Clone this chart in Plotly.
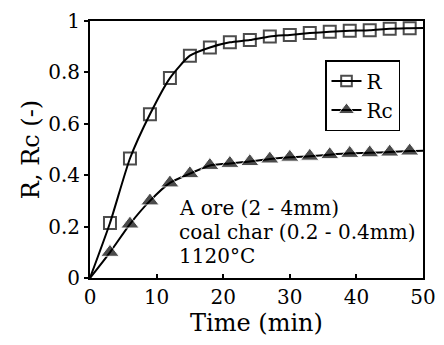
import plotly.graph_objects as go

time = [0, 3, 6, 9, 12, 15, 18, 21, 24, 27, 30, 33, 36, 39, 42, 45, 48, 50]
R = [0, 0.214, 0.465, 0.637, 0.778, 0.865, 0.897, 0.917, 0.926, 0.94, 0.946,
     0.953, 0.958, 0.962, 0.964, 0.97, 0.972, 0.973]
Rc = [0, 0.10, 0.21, 0.30, 0.37, 0.406, 0.438, 0.446, 0.453, 0.463, 0.47,
      0.474, 0.48, 0.485, 0.487, 0.49, 0.494, 0.495]
x_ticks = [0, 10, 20, 30, 40, 50]
y_ticks = [0, 0.2, 0.4, 0.6, 0.8, 1]
y_ticklabels = ["0", "0.2", "0.4", "0.6", "0.8", "1"]
notes = ["A ore (2 - 4mm)", "coal char (0.2 - 0.4mm)", "1120\u00b0C"]

FONT = "DejaVu Serif"
FS = 20
n = len(time)
sq_sizes = [0] + [12] * (n - 2) + [0]
tri_sizes = [0] + [16] * (n - 2) + [0]

# page body has an 8px margin: figure is offset by 8px; keep it inside the window
OFF = 8
W, H = 444 - 2 * OFF, 345 - 2 * OFF
PX0, PX1, PY0, PY1 = 90, 423, 21, 278   # plot area in page pixels
L, T = PX0 - OFF, PY0 - OFF
Rm = W - (PX1 - OFF)
B = H - (PY1 - OFF)


def fx(px):
    return (px - PX0) / (PX1 - PX0)


def fy(py):
    return (PY1 - py) / (PY1 - PY0)


fig = go.Figure()
fig.add_trace(go.Scatter(
    x=time, y=R, name="R", mode="lines+markers",
    line=dict(color="black", width=2, shape="spline", smoothing=0.6),
    marker=dict(symbol="square-open", size=sq_sizes, color="black",
                line=dict(width=2, color="black")),
))
fig.add_trace(go.Scatter(
    x=time, y=Rc, name="Rc", mode="lines+markers",
    line=dict(color="black", width=2, shape="spline", smoothing=0.6),
    marker=dict(symbol="triangle-up", size=tri_sizes, color="black"),
))

for i, t in enumerate(notes):
    fig.add_annotation(x=fx(177), y=fy(208 + 24 * i),
                       xref="paper", yref="paper", text=t, showarrow=False,
                       xanchor="left", yanchor="middle",
                       font=dict(family=FONT, size=FS, color="black"))

fig.update_layout(
    width=W, height=H,
    margin=dict(l=L, r=Rm, t=T, b=B, autoexpand=False),
    paper_bgcolor="white", plot_bgcolor="white",
    font=dict(family=FONT, size=FS, color="black"),
    showlegend=True,
    legend=dict(x=fx(325), y=fy(60), xanchor="left", yanchor="top",
                bordercolor="black", borderwidth=1.5, bgcolor="white",
                font=dict(family=FONT, size=FS, color="black"),
                itemwidth=30),
    xaxis=dict(range=[0, 50], tickvals=x_ticks, ticks="inside", ticklen=4,
               tickwidth=1.5, tickcolor="black", showline=True, linecolor="black",
               linewidth=2, mirror=True, showgrid=False, zeroline=False,
               automargin=False, ticklabeloverflow="allow",
               title=dict(text="Time (min)", standoff=0),
               tickfont=dict(family=FONT, size=FS)),
    yaxis=dict(range=[0, 1], tickvals=y_ticks, ticktext=y_ticklabels,
               ticks="outside", ticklen=4, tickwidth=1.5, tickcolor="black",
               showline=True, linecolor="black", linewidth=2, mirror=True,
               showgrid=False, zeroline=False, automargin=False,
               ticklabeloverflow="allow",
               title=dict(text="R, Rc (-)", standoff=2),
               tickfont=dict(family=FONT, size=FS)),
)

fig.write_html("out.html")
